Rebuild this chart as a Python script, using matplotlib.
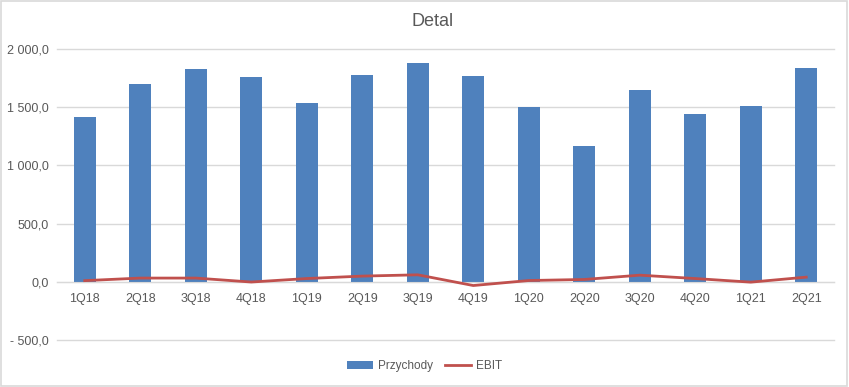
import matplotlib
matplotlib.use("Agg")
from matplotlib import pyplot as plt
from matplotlib.ticker import FuncFormatter
import numpy as np

quarters = ["1Q18", "2Q18", "3Q18", "4Q18", "1Q19", "2Q19", "3Q19",
            "4Q19", "1Q20", "2Q20", "3Q20", "4Q20", "1Q21", "2Q21"]
przychody = [1418, 1701, 1830, 1761, 1538, 1778, 1881,
             1770, 1503, 1168, 1649, 1443, 1512, 1838]
ebit = [10, 32, 32, -2, 28, 49, 60,
        -32, 11, 20, 57, 28, -3, 40]
y_ticks = [-500, 0, 500, 1000, 1500, 2000]

TEXT = "#595959"
GRID = "#D9D9D9"

plt.rcParams["font.family"] = ["Liberation Sans", "DejaVu Sans"]

fig = plt.figure(figsize=(8.49, 3.87), dpi=100)
ax = fig.add_axes([57 / 849, 1 - 340 / 387, 777 / 849, 291 / 387])

x = np.arange(len(quarters))
bars = ax.bar(x, przychody, width=0.4, color="#4F81BD", label="Przychody", zorder=2)
line, = ax.plot(x, ebit, color="#C0504D", linewidth=2.0, label="EBIT", zorder=3,
                solid_joinstyle="round")

ax.set_xlim(-0.5, len(quarters) - 0.5)
ax.set_ylim(-500, 2000)
ax.set_yticks(y_ticks)
ax.yaxis.set_major_formatter(FuncFormatter(
    lambda v, p: f"{v:,.1f}".replace(",", " ").replace(".", ",").replace("-", "- ")))
ax.set_xticks(x)
ax.set_xticklabels(quarters)

ax.grid(axis="y", color=GRID, linewidth=1.0, zorder=0)
for gl in ax.get_ygridlines():
    gl.set_clip_on(False)
for side in ["top", "right", "left"]:
    ax.spines[side].set_visible(False)
ax.spines["bottom"].set_position(("data", 0))
ax.spines["bottom"].set_color(GRID)
ax.tick_params(axis="both", length=0, labelsize=9, labelcolor=TEXT)
ax.tick_params(axis="x", pad=8)
ax.tick_params(axis="y", pad=6)

fig.text(0.51, 1 - 21 / 387, "Detal", ha="center", va="center", fontsize=13, color=TEXT)

leg = fig.legend([bars, line], ["Przychody", "EBIT"], loc="center",
                 bbox_to_anchor=(0.5, 1 - 366 / 387), ncol=2,
                 frameon=False, fontsize=8.5, handlelength=2.2, columnspacing=1.0,
                 handletextpad=0.4, handleheight=0.6)
for t in leg.get_texts():
    t.set_color(TEXT)

border = plt.Rectangle((0.001, 0.002), 0.997, 0.996, transform=fig.transFigure,
                       fill=False, edgecolor=GRID, linewidth=1.2)
fig.patches.append(border)

fig.savefig("out.png", dpi=100)
